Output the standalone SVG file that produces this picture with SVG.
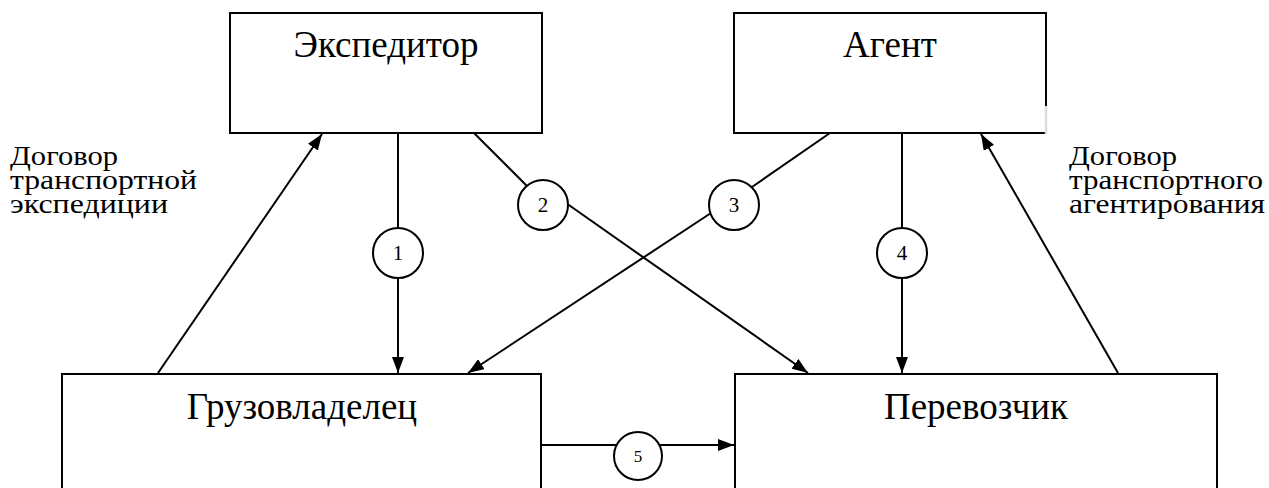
<svg xmlns="http://www.w3.org/2000/svg" width="1269" height="488" viewBox="0 0 1269 488">
<defs>
<style>
.box{fill:#fff;stroke:#000;stroke-width:2}
.ln{fill:none;stroke:#000;stroke-width:2}
.c{fill:#fff;stroke:#000;stroke-width:2}
.t{font-family:"Liberation Serif","Times New Roman",serif;fill:#000}
.big{font-size:37px;text-anchor:middle}
.lab{font-size:28px}
.num{font-size:21px;text-anchor:middle}
</style>
<marker id="ah" viewBox="0 0 16 12" refX="16" refY="6" markerWidth="16" markerHeight="12" markerUnits="userSpaceOnUse" orient="auto">
<path d="M0,0 L16,6 L0,12 Z" fill="#000"/>
</marker>
</defs>
<rect width="1269" height="488" fill="#fff"/>
<g id="connectors">
<line class="ln" x1="398" y1="133" x2="398" y2="228"/>
<line class="ln" x1="398" y1="278" x2="398" y2="373" marker-end="url(#ah)"/>
<line class="ln" x1="902" y1="133" x2="902" y2="228"/>
<line class="ln" x1="902" y1="278" x2="902" y2="373" marker-end="url(#ah)"/>
<line class="ln" x1="474" y1="133" x2="527" y2="186"/>
<line class="ln" x1="566" y1="203" x2="808" y2="373" marker-end="url(#ah)"/>
<line class="ln" x1="830" y1="133" x2="752" y2="187"/>
<line class="ln" x1="711" y1="213" x2="468" y2="373" marker-end="url(#ah)"/>
<line class="ln" x1="158" y1="373" x2="322" y2="134" marker-end="url(#ah)"/>
<line class="ln" x1="1118" y1="373" x2="981" y2="134" marker-end="url(#ah)"/>
<line class="ln" x1="541" y1="445" x2="616" y2="445"/>
<line class="ln" x1="660" y1="445" x2="734" y2="445" marker-end="url(#ah)"/>
</g>
<g id="ekspeditor">
<rect class="box" x="230" y="13" width="312" height="120"/>
<text class="t big" x="386" y="57">Экспедитор</text>
</g>
<g id="agent">
<rect class="box" x="734" y="13" width="312" height="120"/>
<line x1="1046" y1="106" x2="1046" y2="134" stroke="#ddd" stroke-width="2.5"/>
<text class="t big" x="890" y="57">Агент</text>
</g>
<g id="gruzovladelets">
<rect class="box" x="62" y="374" width="479" height="130"/>
<text class="t big" x="302" y="419">Грузовладелец</text>
</g>
<g id="perevozchik">
<rect class="box" x="735" y="374" width="482" height="130"/>
<text class="t big" x="976" y="419">Перевозчик</text>
</g>
<g id="label-left">
<text class="t lab" x="10" y="165" textLength="108" lengthAdjust="spacingAndGlyphs">Договор</text>
<text class="t lab" x="10" y="189" textLength="187" lengthAdjust="spacingAndGlyphs">транспортной</text>
<text class="t lab" x="10" y="213" textLength="158" lengthAdjust="spacingAndGlyphs">экспедиции</text>
</g>
<g id="label-right">
<text class="t lab" x="1069" y="165" textLength="108" lengthAdjust="spacingAndGlyphs">Договор</text>
<text class="t lab" x="1069" y="189" textLength="194" lengthAdjust="spacingAndGlyphs">транспортного</text>
<text class="t lab" x="1069" y="213" textLength="196" lengthAdjust="spacingAndGlyphs">агентирования</text>
</g>
<g id="c1"><circle class="c" cx="398" cy="253" r="25"/><text class="t num" x="398" y="260">1</text></g>
<g id="c2"><circle class="c" cx="543" cy="205" r="25"/><text class="t num" x="543" y="212">2</text></g>
<g id="c3"><circle class="c" cx="734" cy="205" r="25"/><text class="t num" x="734" y="212">3</text></g>
<g id="c4"><circle class="c" cx="902" cy="253" r="25"/><text class="t num" x="902" y="260">4</text></g>
<g id="c5"><circle class="c" cx="638" cy="456" r="24"/><text class="t num" x="638" y="462" style="font-size:17px">5</text></g>
</svg>
